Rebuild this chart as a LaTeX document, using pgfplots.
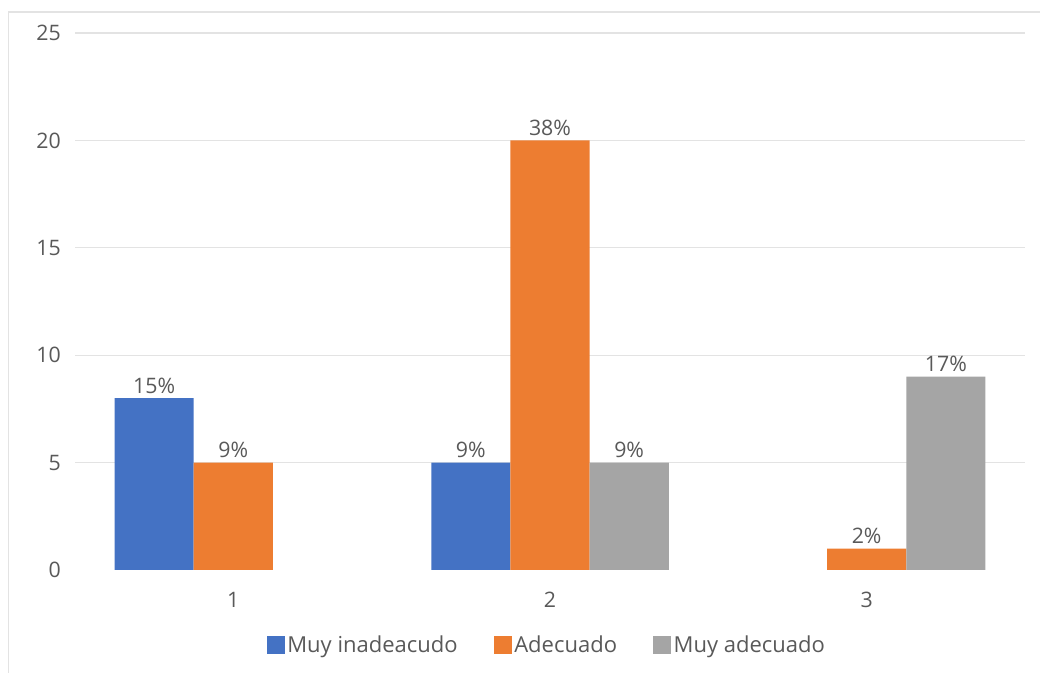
\documentclass[border=0pt]{standalone}
\usepackage{pgfplots}
\pgfplotsset{compat=1.18}
\usepackage{fontspec}
\setmainfont{Open Sans}
\definecolor{cblue}{HTML}{4472C4}
\definecolor{corange}{HTML}{ED7D31}
\definecolor{cgray}{HTML}{A5A5A5}
\definecolor{ctext}{HTML}{595959}
\definecolor{cgrid}{HTML}{E3E3E3}
\begin{document}
\begin{tikzpicture}[x=0.75pt,y=0.75pt]
\begin{axis}[
  at={(0,0)}, anchor=south west,
  scale only axis, width=712.5pt, height=402.75pt,
  ybar=0pt, bar width=0.25,
  xmin=0.5, xmax=3.5, ymin=0, ymax=25,
  xtick={1,2,3},
  ytick={5,10,15,20,25},
  extra y ticks={0}, extra y tick style={grid=none},
  ymajorgrids, grid style={cgrid, line width=1pt},
  axis line style={draw=none}, major tick length=0pt,
  /pgf/number format/assume math mode=true,
  tick label style={font=\fontsize{16}{19}\selectfont, text=ctext},
  yticklabel style={anchor=east, inner sep=0pt, xshift=-10.5pt},
  xticklabel style={anchor=center, inner sep=0pt, yshift=-22.5pt},
  nodes near coords,
  point meta=explicit symbolic,
  every node near coord/.append style={font=\fontsize{16}{19}\selectfont, text=ctext, anchor=south, inner sep=0pt, yshift=3.5pt},
  legend columns=-1,
  legend style={at={(0.497,-0.14)}, anchor=center, draw=none, fill=none,
    font=\fontsize{16.5}{19}\selectfont, text=ctext,
    /tikz/every even column/.append style={column sep=25pt}},
  legend image code/.code={\fill[#1] (0pt,-6.75pt) rectangle (13.5pt,6.75pt);},
]
\addplot[fill=cblue, draw=none] coordinates {(1,8) [15\%] (2,5) [9\%]};
\addlegendentry{Muy inadeacudo}
\addplot[fill=corange, draw=none] coordinates {(1,5) [9\%] (2,20) [38\%] (3,1) [2\%]};
\addlegendentry{Adecuado}
\addplot[fill=cgray, draw=none] coordinates {(2,5) [9\%] (3,9) [17\%]};
\addlegendentry{Muy adecuado}
\end{axis}
\draw[cgrid, line width=1.2pt] (-66.5,-103) -- (-66.5,558) -- (965,558);
\pgfresetboundingbox
\path[use as bounding box] (-75,-103) rectangle (965,570);
\end{tikzpicture}
\end{document}
